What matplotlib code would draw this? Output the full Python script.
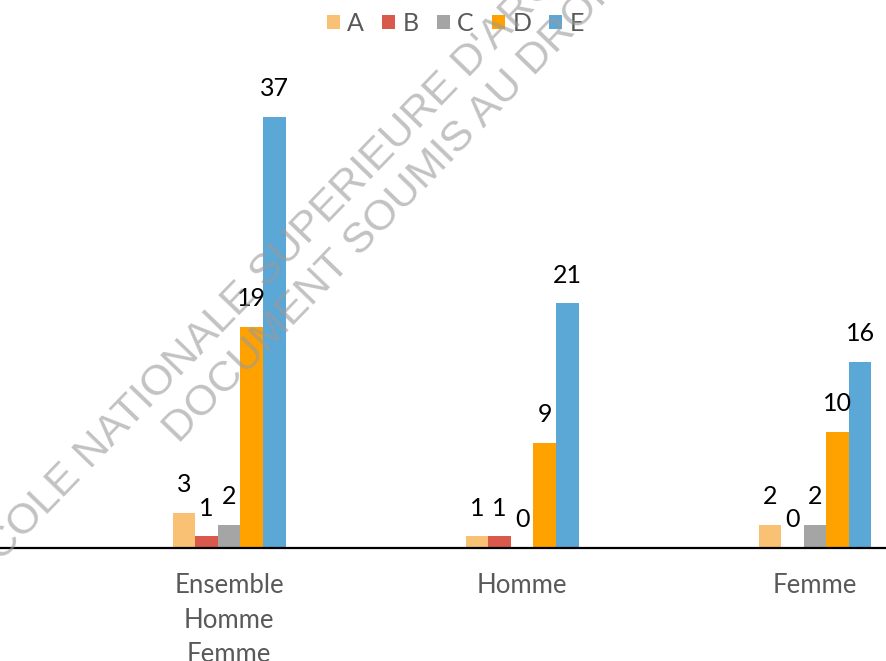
import matplotlib
matplotlib.use('Agg')
import matplotlib.pyplot as plt
import numpy as np

# données
groupes = ['Ensemble\nHomme\nFemme', 'Homme', 'Femme']
series = ['A', 'B', 'C', 'D', 'E']
val_A = [3, 1, 2]
val_B = [1, 1, 0]
val_C = [2, 0, 2]
val_D = [19, 9, 10]
val_E = [37, 21, 16]
couleurs = ['#f9c173', '#d9594c', '#a5a5a5', '#ffa200', '#5ba7d6']

plt.rcParams['font.family'] = ['Lato', 'DejaVu Sans']

fig = plt.figure(figsize=(8.86, 6.61), dpi=100)
ax = fig.add_axes([0, 0.171, 1, 0.74])

x = np.arange(len(groupes))
largeur = 0.077
valeurs = [val_A, val_B, val_C, val_D, val_E]
for i, (nom, v) in enumerate(zip(series, valeurs)):
    pos = x + (i - 2) * largeur
    bars = ax.bar(pos, v, largeur, color=couleurs[i], label=nom, zorder=3)
    for b, val in zip(bars, v):
        ax.annotate(str(val), (b.get_x() + b.get_width() / 2, b.get_height()),
                    xytext=(0, 12), textcoords='offset points',
                    ha='center', va='bottom', fontsize=18, color='black', zorder=4)

ax.set_xlim(-0.782, 2.242)
ax.set_ylim(0, 42)
ax.set_xticks(x)
ax.set_xticklabels(groupes, fontsize=18.5, color='#595959', linespacing=1.48)
ax.tick_params(axis='x', length=0, pad=18)
ax.set_yticks([])
for s in ['top', 'right', 'left']:
    ax.spines[s].set_visible(False)
ax.spines['bottom'].set_linewidth(1.6)
ax.spines['bottom'].set_zorder(5)

fig.legend(loc='upper center', bbox_to_anchor=(0.514, 1.016), ncol=5, frameon=False,
           fontsize=18, handlelength=0.52, handleheight=0.52, handletextpad=0.3,
           columnspacing=0.72, labelcolor='#595959')

# filigrane
wm = dict(fontsize=31, color='#9a9a9a', alpha=0.6, rotation=46, rotation_mode='anchor',
          ha='left', va='baseline', family='Liberation Sans', zorder=10)
fig.text(-0.0214, 0.118, "ECOLE NATIONALE SUPERIEURE D'ARCHITECTURE", **wm)
fig.text(0.2015, 0.328, "DOCUMENT SOUMIS AU DROIT D'AUTEUR", **wm)

fig.savefig('out.png')
